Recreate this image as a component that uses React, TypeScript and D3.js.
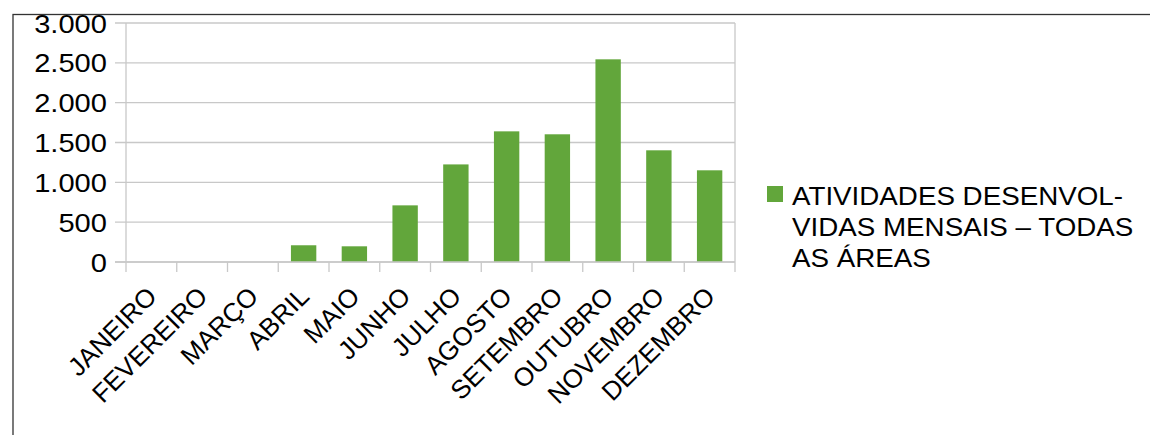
import React from "react";
import * as d3 from "d3";

const categories = ["JANEIRO","FEVEREIRO","MARÇO","ABRIL","MAIO","JUNHO","JULHO","AGOSTO","SETEMBRO","OUTUBRO","NOVEMBRO","DEZEMBRO"];
const values = [0, 0, 0, 210, 197, 711, 1225, 1640, 1603, 2544, 1402, 1151];
const yTicks = [0, 500, 1000, 1500, 2000, 2500, 3000];
const legendLines = ["ATIVIDADES DESENVOL-", "VIDAS MENSAIS – TODAS", "AS ÁREAS"];

const W = 1150, H = 435;
const left = 126, right = 735, top = 23, bottom = 262;
const green = "#62a63b";
const font = "'Liberation Sans', Arial, sans-serif";

export default function App() {
  const x = d3.scaleBand<string>().domain(categories).range([left, right]).paddingInner(0.5).paddingOuter(0.25);
  const xb = d3.scaleBand<string>().domain(categories).range([left, right]);
  const y = d3.scaleLinear().domain([0, 3000]).range([bottom, top]);
  const fmt = (v: number) => d3.format(",")(v).replace(/,/g, ".");
  return (
    <svg width={W} height={H} style={{ position: "absolute", left: 0, top: 0, background: "#fff" }}>
      <defs>
        <clipPath id="frame"><rect x={13} y={15} width={W} height={H} /></clipPath>
      </defs>
      <g clipPath="url(#frame)">
        {yTicks.map((t) => (
          <line key={t} x1={left - 11} x2={right} y1={y(t)} y2={y(t)} stroke="#c8c8c8" strokeWidth={1.3} />
        ))}
        <line x1={left} x2={left} y1={top} y2={bottom} stroke="#c8c8c8" strokeWidth={1.3} />
        <line x1={right} x2={right} y1={top} y2={bottom + 10} stroke="#c8c8c8" strokeWidth={1.3} />
        {categories.map((c) => (
          <line key={c} x1={xb(c)!} x2={xb(c)!} y1={bottom} y2={bottom + 10} stroke="#c8c8c8" strokeWidth={1.3} />
        ))}
        {categories.map((c, i) => (
          <rect key={c} x={x(c)!} width={x.bandwidth()} y={y(values[i])} height={bottom - y(values[i])} fill={green} />
        ))}
        <line x1={left - 11} x2={right} y1={bottom} y2={bottom} stroke="#c8c8c8" strokeWidth={1.3} />
        {yTicks.map((t) => (
          <text key={t} transform={`translate(107 ${y(t) + 9.5}) scale(1.12 1)`} textAnchor="end" fontFamily={font} fontSize={26} fill="#000">{fmt(t)}</text>
        ))}
        {categories.map((c) => {
          const cx = xb(c)! + xb.bandwidth() / 2 + 7;
          const cy = 298;
          return (
            <text key={c} transform={`translate(${cx} ${cy}) rotate(-45)`} textAnchor="end" fontFamily={font} fontSize={26} fill="#000">{c}</text>
          );
        })}
        <rect x={767} y={186} width={16} height={16} fill={green} />
        {legendLines.map((l, i) => (
          <text key={i} transform={`translate(792 ${204.5 + i * 31.3}) scale(1.11 1)`} fontFamily={font} fontSize={25} fill="#000">{l}</text>
        ))}
      </g>
      <rect x={13} y={14.5} width={W + 20} height={H + 20} fill="none" stroke="#333" strokeWidth={1.3} />
    </svg>
  );
}
